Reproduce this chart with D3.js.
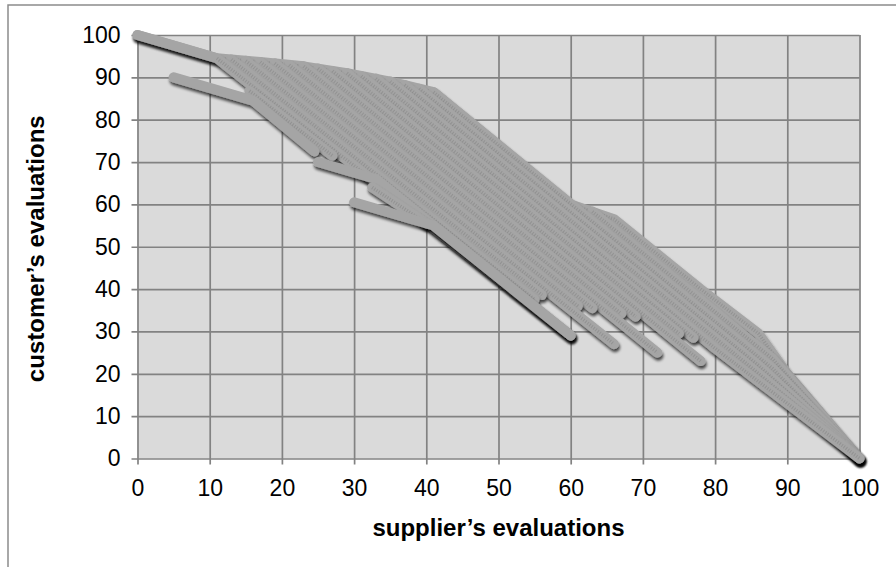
<!DOCTYPE html>
<html><head><meta charset="utf-8">
<script src="https://cdn.jsdelivr.net/npm/d3@7"></script>
<style>html,body{margin:0;padding:0;background:#fff;} svg{display:block;font-family:Arial,"Liberation Sans",sans-serif;}</style>
</head><body><div id="chart"></div>
<script>
const xTicks = [0,10,20,30,40,50,60,70,80,90,100];
const yTicks = [0,10,20,30,40,50,60,70,80,90,100];
const xTitle = "supplier\u2019s evaluations";
const yTitle = "customer\u2019s evaluations";

// evaluation paths, listed top to bottom (drawing order)
const sTop = [[0,100],[11,94.5],[17,93.6],[23,92.6],[29,91],[35,89],[41,86.5],[60,60],[66,56.5],[78,40],[86,29.5],[90,20],[100,0]];
const sX2  = [[63,58.3],[88,23.5],[100,0]];
const s41  = [[41,86.5],[88,21.2],[100,0]];
const s39  = [[39,87.3],[86,22],[100,0]];
const s37  = [[37,88.2],[84,22.9],[100,0]];
const s35  = [[35,89],[80,26],[100,0]];
const s33  = [[33,89.7],[77,28.5]];
const s31  = [[31,90.3],[75,29.5]];
const s29  = [[29,91],[78,23]];
const s27  = [[27,91.5],[69,33.5]];
const s25  = [[25,92.1],[67,34.2]];
const s23  = [[23,92.6],[72,25]];
const s21  = [[21,92.9],[63,35.5]];
const s19  = [[19,93.3],[61,36]];
const s17  = [[17,93.6],[66,27]];
const s15  = [[15,93.9],[56,38.6]];
const s13  = [[13,94.2],[55,37.5]];
const s11  = [[0,100],[11,94.5],[60,29]];
const sF1  = [[15.5,86.8],[27,71.5]];
const sL1  = [[5,90],[16,84.5],[24.5,72.5]];
const sL2  = [[25,70],[33,66],[41,55],[60,29]];
const sF2  = [[32.5,64],[40,55.5]];
const sL3  = [[30,60.5],[41,55],[60,29]];

const seriesList = [sTop,sX2,s41,s39,s37,s35,s33,s31,s29,s27,s25,s23,s21,s19,s17,s15,s13,s11,sF1,sL1,sL2,sF2,sL3];
// index of first point from which the line carries the dotted texture (-1 = none)
const textureFrom = [1,0,0,0,0,0,0,0,0,0,0,0,0,0,0,0,0,1,0,-1,2,0,-1];

const W = 896, H = 567;
const L = 137.5, R = 859.5, T = 35, B = 458.5;

const svg = d3.select("#chart").append("svg").attr("width", W).attr("height", H);
const defs = svg.append("defs");
const f = defs.append("filter").attr("id","sh").attr("filterUnits","userSpaceOnUse")
  .attr("x",0).attr("y",0).attr("width",W).attr("height",H);
f.append("feGaussianBlur").attr("in","SourceAlpha").attr("stdDeviation",1.6);
f.append("feOffset").attr("dx",1).attr("dy",2.6).attr("result","off");
f.append("feComponentTransfer").attr("in","off").attr("result","sha")
  .append("feFuncA").attr("type","linear").attr("slope",0.7);
const fm = f.append("feMerge");
fm.append("feMergeNode").attr("in","sha");
fm.append("feMergeNode").attr("in","SourceGraphic");

// outer frame
svg.append("path").attr("d", `M8,${H+5} L8,5 L${W+5},5`).attr("fill","none")
  .attr("stroke","#8c8c8c").attr("stroke-width",1.5);

const x = d3.scaleLinear().domain([0,100]).range([L,R]);
const y = d3.scaleLinear().domain([0,100]).range([B,T]);

svg.append("rect").attr("x",L).attr("y",T).attr("width",R-L).attr("height",B-T).attr("fill","#dadada");

// grid + tick marks
const gx = svg.append("g").attr("transform",`translate(0,${B+6})`)
  .call(d3.axisBottom(x).tickValues(xTicks).tickSize(-(B-T+6)).tickFormat(""));
const gy = svg.append("g").attr("transform",`translate(${L-6},0)`)
  .call(d3.axisLeft(y).tickValues(yTicks).tickSize(-(R-L+6)).tickFormat(""));
[gx,gy].forEach(g=>{ g.select(".domain").remove(); g.selectAll("line").attr("stroke","#828282").attr("stroke-width",1.7); });

// labels
const lx = svg.append("g").attr("transform",`translate(0,${B})`)
  .call(d3.axisBottom(x).tickValues(xTicks).tickSize(0).tickPadding(21.5));
const ly = svg.append("g").attr("transform",`translate(${L},0)`)
  .call(d3.axisLeft(y).tickValues(yTicks).tickSize(0).tickPadding(17));
[lx,ly].forEach(g=>{ g.select(".domain").remove(); g.selectAll("text").attr("font-size",23).attr("fill","#000").attr("font-family","Arial, 'Liberation Sans', sans-serif"); });

svg.append("text").attr("x",(L+R)/2).attr("y",536).attr("text-anchor","middle")
  .attr("font-size",24).attr("font-weight","bold").text(xTitle);
svg.append("text").attr("transform",`translate(44,${(T+B)/2+2}) rotate(-90)`).attr("text-anchor","middle")
  .attr("font-size",24).attr("font-weight","bold").text(yTitle);

// lines
const line = d3.line().x(d=>x(d[0])).y(d=>y(d[1]));
const lg = svg.append("g");
seriesList.forEach((s,i)=>{
  const g = lg.append("g").attr("filter","url(#sh)");
  g.append("path").attr("d",line(s)).attr("fill","none").attr("stroke","#a5a5a5")
    .attr("stroke-width",10).attr("stroke-linecap","round").attr("stroke-linejoin","round");
  if (textureFrom[i] >= 0) {
    g.append("path").attr("d",line(s.slice(textureFrom[i]))).attr("fill","none").attr("stroke","#8a8a8a")
      .attr("stroke-width",3.5).attr("stroke-dasharray","1,1.6").attr("opacity",0.7);
  }
});
</script></body></html>
